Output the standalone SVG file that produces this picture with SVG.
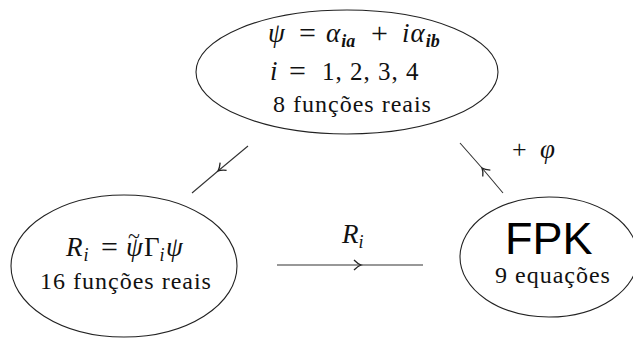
<svg xmlns="http://www.w3.org/2000/svg" width="633" height="341" viewBox="0 0 633 341">
<defs>
<style>
.node{fill:#fff;stroke:#222;stroke-width:1.1}
.m{font-family:"Liberation Serif","Times New Roman",serif;font-style:italic;font-size:27px;fill:#111}
.r{font-family:"Liberation Serif","Times New Roman",serif;font-size:24px;fill:#111;letter-spacing:1px}
.n{font-style:normal}
.op{font-style:normal;font-size:30px}
.sub{font-size:18px}
.b{font-weight:bold}
.edge{fill:none;stroke:#333;stroke-width:1.1}
</style>
<marker id="ah" viewBox="-8 -6 10 12" markerWidth="10" markerHeight="12" refX="0" refY="0" orient="auto" markerUnits="userSpaceOnUse">
<path d="M-7,-5 Q-3,-1 0,0 Q-3,1 -7,5" fill="none" stroke="#222" stroke-width="1.3"/>
</marker>
</defs>
<rect width="633" height="341" fill="#fff"/>
<g id="edges">
<path class="edge" d="M248,146 L218,171 L192,193" marker-mid="url(#ah)"/>
<path class="edge" d="M503,193 L482,168 L460,143" marker-mid="url(#ah)"/>
<path class="edge" d="M277,265 L361,265 L423,265" marker-mid="url(#ah)"/>
<text class="m"><tspan x="342" y="243">R</tspan><tspan class="sub" dy="5">i</tspan></text>
<text class="m"><tspan x="512" y="158" class="n" style="font-size:26px">+</tspan><tspan x="540" y="158">φ</tspan></text>
</g>
<g id="top">
<ellipse class="node" cx="347" cy="72" rx="151" ry="62"/>
<text class="m"><tspan x="268" y="42">ψ</tspan><tspan x="299" y="43" class="op">=</tspan><tspan x="326" y="42">α</tspan><tspan class="sub b" dx="1" dy="5">ia</tspan><tspan x="371" y="43" class="op">+</tspan><tspan x="402" y="42">i</tspan><tspan dx="1">α</tspan><tspan class="sub b" dx="1" dy="5">ib</tspan></text>
<text class="m"><tspan x="270" y="80">i</tspan><tspan x="289" y="81" class="op">=</tspan><tspan x="322" y="80" class="n" style="font-size:25px;letter-spacing:1px">1, 2, 3, 4</tspan></text>
<text class="r" x="273" y="112">8 funções reais</text>
</g>
<g id="left">
<ellipse class="node" cx="124" cy="266" rx="113" ry="71"/>
<text class="m"><tspan x="66" y="256">R</tspan><tspan class="sub" dx="1" dy="5">i</tspan><tspan x="101" y="257" class="op">=</tspan><tspan x="126" y="256">ψ</tspan><tspan x="128" y="243" class="n" style="font-size:22px">~</tspan><tspan x="144" y="256" class="n">Γ</tspan><tspan class="sub" dy="5">i</tspan><tspan x="166" y="256">ψ</tspan></text>
<text class="r" x="40" y="289">16 funções reais</text>
</g>
<g id="right">
<ellipse class="node" cx="549" cy="257" rx="89" ry="60"/>
<text x="505" y="254" font-family="Liberation Sans, Arial, sans-serif" font-size="45" fill="#000">FPK</text>
<text class="r" x="495" y="283">9 equações</text>
</g>
</svg>
